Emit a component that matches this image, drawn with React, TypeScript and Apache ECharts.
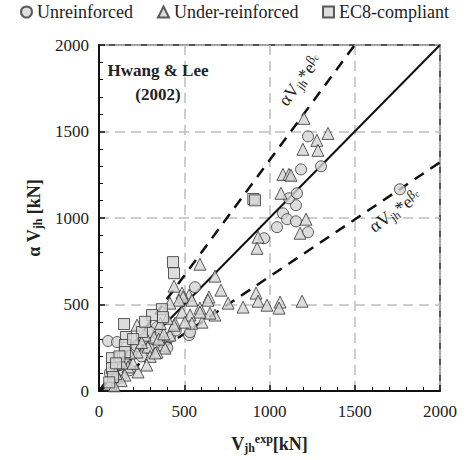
import React, { useEffect, useRef } from "react";
import * as echarts from "echarts";

const xTicks = [0, 500, 1000, 1500, 2000];
const yTicks = [0, 500, 1000, 1500, 2000];

const unreinforced: number[][] = [
  [53, 289], [64, 104], [106, 283], [135, 92], [194, 219], [120, 150], [95, 60], [150, 170],
  [220, 260], [250, 200], [290, 250], [317, 300], [340, 369], [346, 330], [380, 280], [400, 250],
  [416, 312], [450, 350], [528, 323], [534, 340], [563, 600], [300, 340], [260, 300], [180, 120],
  [968, 883], [1044, 947], [1079, 1027], [1103, 993], [1155, 981], [1155, 1074], [1114, 1114],
  [1161, 1143], [1185, 1281], [1226, 918], [1226, 1472], [1302, 1299], [1765, 1166],
];

const underReinforced: number[][] = [
  [1202, 1576], [1343, 1489], [1278, 1449], [1196, 1397], [1284, 1391], [1079, 1252], [1114, 1252],
  [1126, 1247], [1067, 1143], [1214, 993], [1179, 912], [933, 889], [927, 825],
  [921, 566], [933, 519], [985, 496], [1062, 514], [1056, 479], [1191, 519], [845, 485], [757, 508],
  [715, 583], [680, 664], [645, 543], [592, 733], [440, 606], [592, 479], [680, 439], [528, 554],
  [487, 566], [493, 543], [545, 525], [639, 525], [651, 450], [604, 398], [487, 456], [534, 439],
  [592, 456], [545, 392], [446, 392], [416, 323], [375, 266], [387, 248], [340, 225], [287, 254],
  [323, 312], [270, 323], [223, 381], [223, 225], [170, 139], [229, 110], [135, 162], [111, 81],
  [152, 92], [300, 200], [350, 300], [200, 160], [130, 60], [60, 40], [280, 150], [330, 220],
  [380, 330], [440, 380], [250, 280], [180, 220], [100, 100], [90, 30], [400, 420], [360, 390],
  [469, 525], [416, 508], [504, 398],
];

const ec8Compliant: number[][] = [
  [434, 745], [440, 681], [905, 1110], [915, 1102], [369, 473], [311, 439], [375, 427], [147, 387],
  [158, 312], [152, 266], [152, 225], [252, 341], [76, 190], [76, 133], [82, 81], [120, 200],
  [200, 300], [270, 400], [60, 50], [100, 160],
];

const unityLine: number[][] = [[0, 0], [2000, 2000]];
const upperLine: number[][] = [[0, 0], [1500, 2000]];
const lowerLine: number[][] = [[0, 0], [2000, 1322]];

const SERIF = "Liberation Serif";
const FILL = "#d4d4d4";
const EDGE = "#333";

export default function App() {
  const ref = useRef<HTMLDivElement>(null);
  useEffect(() => {
    if (!ref.current) return;
    const chart = echarts.init(ref.current, undefined, { renderer: "svg" });
    const markerStyle = { color: FILL, borderColor: EDGE, borderWidth: 1 };
    const labelRich = {
      a: { fontSize: 18, fontFamily: SERIF, fill: "#222" },
      s: { fontSize: 12, fontFamily: SERIF, fill: "#222", padding: [9, 0, 0, 0] },
      p: { fontSize: 13, fontFamily: SERIF, fill: "#222", padding: [0, 0, 8, 0] },
      pc: { fontSize: 9, fontFamily: SERIF, fill: "#222", padding: [0, 0, 2, 0] },
    };
    const legendBase = {
      top: 3,
      padding: 0,
      itemWidth: 11,
      itemHeight: 11,
      selectedMode: false,
      textStyle: { fontFamily: SERIF, fontSize: 18, color: "#222" },
    };
    const option: any = {
      animation: false,
      textStyle: { fontFamily: SERIF },
      grid: { left: 99, right: 29, top: 45, bottom: 69, show: true, borderColor: "#222", borderWidth: 1.5, backgroundColor: "transparent" },
      legend: [
        { ...legendBase, left: 20, data: [{ name: "Unreinforced", icon: "circle" }] },
        { ...legendBase, left: 157, data: [{ name: "Under-reinforced", icon: "triangle" }] },
        { ...legendBase, left: 322, data: [{ name: "EC8-compliant", icon: "rect" }] },
      ],
      xAxis: {
        type: "value",
        min: xTicks[0],
        max: xTicks[xTicks.length - 1],
        interval: 500,
        axisLine: { lineStyle: { color: "#111", width: 2 } },
        axisTick: { show: true, inside: true, length: 6, lineStyle: { color: "#111", width: 1.5 } },
        minorTick: { show: true, splitNumber: 5, length: 4, lineStyle: { color: "#111", width: 1 } },
        axisLabel: { fontFamily: SERIF, fontSize: 17, color: "#222", margin: 12, formatter: (v: number) => String(v) },
        splitLine: { show: true, lineStyle: { color: "#bdbdbd", width: 1.5, type: [10, 6] } },
        name: "{b|V}{s|jh}{p|exp}{b|[kN]}",
        nameLocation: "middle",
        nameGap: 42,
        nameTextStyle: {
          rich: {
            b: { fontSize: 18, fontWeight: "bold", fontFamily: SERIF, color: "#222" },
            s: { fontSize: 12, fontWeight: "bold", fontFamily: SERIF, color: "#222", padding: [9, 0, 0, 0] },
            p: { fontSize: 12, fontWeight: "bold", fontFamily: SERIF, color: "#222", padding: [0, 0, 9, 0] },
          },
        },
      },
      yAxis: {
        type: "value",
        min: yTicks[0],
        max: yTicks[yTicks.length - 1],
        interval: 500,
        axisLine: { show: true, lineStyle: { color: "#111", width: 2 } },
        axisTick: { show: true, inside: true, length: 6, lineStyle: { color: "#111", width: 1.5 } },
        minorTick: { show: true, splitNumber: 5, length: 4, lineStyle: { color: "#111", width: 1 } },
        axisLabel: { fontFamily: SERIF, fontSize: 17, color: "#222", margin: 10, formatter: (v: number) => String(v) },
        splitLine: { show: true, lineStyle: { color: "#bdbdbd", width: 1.5, type: [10, 6] } },
        name: "{b|α V}{s|jh}{b| [kN]}",
        nameLocation: "middle",
        nameGap: 54,
        nameRotate: 90,
        nameTextStyle: {
          rich: {
            b: { fontSize: 18, fontWeight: "bold", fontFamily: SERIF, color: "#222" },
            s: { fontSize: 12, fontWeight: "bold", fontFamily: SERIF, color: "#222", padding: [9, 0, 0, 0] },
          },
        },
      },
      graphic: [
        {
          type: "text",
          x: 158,
          y: 82,
          style: {
            text: "Hwang & Lee\n(2002)",
            font: `bold 17px ${SERIF}`,
            fill: "#222",
            align: "center",
            verticalAlign: "middle",
            lineHeight: 24,
          },
          z: 100,
        },
        {
          type: "text",
          x: 300,
          y: 80,
          rotation: (53 * Math.PI) / 180,
          style: {
            text: "{a|αV}{s|jh}{a|*e}{p|β}{pc|c}",
            rich: labelRich,
            fill: "#222",
            align: "center",
            verticalAlign: "middle",
          },
          z: 100,
        },
        {
          type: "text",
          x: 395,
          y: 211,
          rotation: (36 * Math.PI) / 180,
          style: {
            text: "{a|αV}{s|jh}{a|*e}{p|β}{pc|c}",
            rich: labelRich,
            fill: "#222",
            align: "center",
            verticalAlign: "middle",
          },
          z: 100,
        },
      ],
      series: [
        { type: "line", data: unityLine, symbol: "none", lineStyle: { color: "#111", width: 2 }, z: 1, silent: true },
        { type: "line", data: upperLine, symbol: "none", lineStyle: { color: "#111", width: 2.5, type: [11, 8] }, z: 1, silent: true },
        { type: "line", data: lowerLine, symbol: "none", lineStyle: { color: "#111", width: 2.5, type: [11, 8] }, z: 1, silent: true },
        { name: "Unreinforced", type: "scatter", symbol: "circle", symbolSize: 11, data: unreinforced, itemStyle: markerStyle, z: 3 },
        { name: "Under-reinforced", type: "scatter", symbol: "triangle", symbolSize: 12, data: underReinforced, itemStyle: markerStyle, z: 4 },
        { name: "EC8-compliant", type: "scatter", symbol: "rect", symbolSize: 11, data: ec8Compliant, itemStyle: markerStyle, z: 5 },
      ],
    };
    chart.setOption(option);
    return () => chart.dispose();
  }, []);
  return <div ref={ref} style={{ width: 469, height: 460, position: "absolute", left: 0, top: 0 }} />;
}
